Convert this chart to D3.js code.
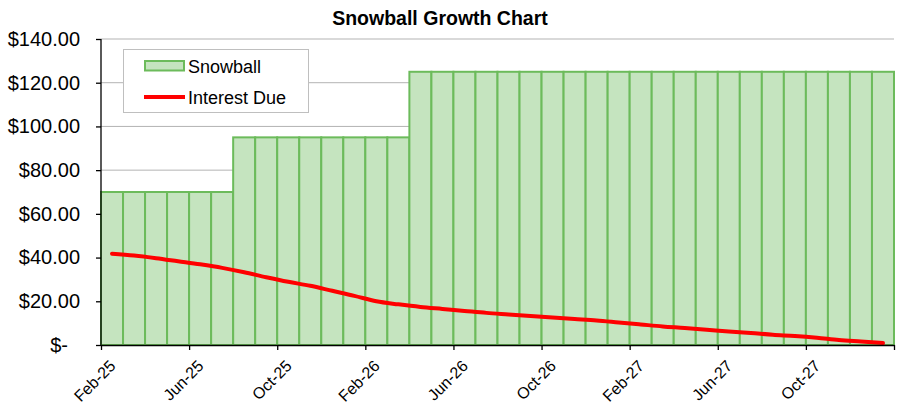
<!DOCTYPE html>
<html><head><meta charset="utf-8">
<script src="https://cdn.jsdelivr.net/npm/d3@7"></script>
<style>body{margin:0;background:#fff}svg{display:block}text{font-family:"Liberation Sans",Arial,sans-serif}</style>
</head><body><svg id="c" width="924" height="406"></svg>
<script>
const months = ["Feb-25","Mar-25","Apr-25","May-25","Jun-25","Jul-25","Aug-25","Sep-25","Oct-25","Nov-25","Dec-25","Jan-26",
"Feb-26","Mar-26","Apr-26","May-26","Jun-26","Jul-26","Aug-26","Sep-26","Oct-26","Nov-26","Dec-26","Jan-27",
"Feb-27","Mar-27","Apr-27","May-27","Jun-27","Jul-27","Aug-27","Sep-27","Oct-27","Nov-27","Dec-27","Jan-28"];
const snowball = [70,70,70,70,70,70,95,95,95,95,95,95,95,95,
125,125,125,125,125,125,125,125,125,125,125,125,125,125,125,125,125,125,125,125,125,125];
const interestDue = [41.8,40.9,39.7,38.3,36.9,35.3,33.3,31.0,28.9,27.1,24.8,22.5,20.0,18.6,17.4,16.5,15.6,14.7,
14.0,13.3,12.6,11.9,11.2,10.3,9.4,8.5,7.8,7.0,6.2,5.5,4.7,4.1,3.3,2.3,1.6,0.9];
const yTicks = [0,20,40,60,80,100,120,140];
const title = "Snowball Growth Chart";

const svg = d3.select("#c");
const L = 101, R = 894, T = 39, B = 345;
const x = d3.scaleLinear().domain([0, months.length]).range([L, R]);
const y = d3.scaleLinear().domain([0, 140]).range([B, T]);

// gridlines
svg.append("g").selectAll("line").data(yTicks.filter(d=>d>0)).join("line")
  .attr("x1", L).attr("x2", R).attr("y1", d=>y(d)).attr("y2", d=>y(d))
  .attr("stroke", "#b3b3b3").attr("stroke-width", 1);

// bars
const bw = x(1) - x(0);
svg.append("g").selectAll("rect").data(snowball).join("rect")
  .attr("x", (d,i)=>x(i)).attr("width", bw)
  .attr("y", d=>y(d)).attr("height", d=>y(0)-y(d))
  .attr("fill", "#c5e4bf").attr("stroke", "#6cbb5b").attr("stroke-width", 2);

// line
const line = d3.line().x((d,i)=>x(i+0.5)).y(d=>y(d)).curve(d3.curveMonotoneX);
svg.append("path").datum(interestDue).attr("d", line)
  .attr("fill","none").attr("stroke","#ff0000").attr("stroke-width",4).attr("stroke-linecap","round");

// y axis
const ya = svg.append("g").attr("transform", `translate(${L},0)`)
  .call(d3.axisLeft(y).tickValues(yTicks).tickSize(5).tickPadding(16)
    .tickFormat(d => d === 0 ? "$-" : "$" + d3.format(".2f")(d)));
ya.selectAll("path,line").attr("stroke","#000").attr("stroke-width",1.3);
ya.select(".domain").attr("d", `M0,${T}V${B}`);
ya.selectAll("text").attr("font-size", 20).attr("fill","#000").attr("font-family",'"Liberation Sans",Arial,sans-serif');
ya.selectAll(".tick").filter(d=>d===0).select("text").attr("x", -33);

// x axis
const xt = d3.range(0, months.length + 1, 4);
const xa = svg.append("g").attr("transform", `translate(0,${B})`)
  .call(d3.axisBottom(x).tickValues(xt).tickSize(5).tickSizeOuter(0)
    .tickFormat(i => i < months.length ? months[i] : ""));
xa.selectAll("path,line").attr("stroke","#000").attr("stroke-width",1.3);
xa.selectAll("text").attr("font-size", 16).attr("fill","#000").attr("font-family",'"Liberation Sans",Arial,sans-serif')
  .attr("text-anchor","end").attr("dy", null).attr("y", 0)
  .attr("transform","translate(15,22) rotate(-45)");

// title
svg.append("text").attr("x", 440).attr("y", 25).attr("text-anchor","middle")
  .attr("font-size", 19.5).attr("font-weight","bold").text(title);

// legend
const lg = svg.append("g");
lg.append("rect").attr("x",123.5).attr("y",49.5).attr("width",185).attr("height",63)
  .attr("fill","#fff").attr("stroke","#bfbfbf").attr("stroke-width",1);
lg.append("rect").attr("x",145).attr("y",61).attr("width",39).attr("height",9.5)
  .attr("fill","#c5e4bf").attr("stroke","#6cbb5b").attr("stroke-width",2);
lg.append("line").attr("x1",144).attr("x2",185).attr("y1",97).attr("y2",97)
  .attr("stroke","#ff0000").attr("stroke-width",4);
lg.append("text").attr("x",188).attr("y",72.5).attr("font-size",18).text("Snowball");
lg.append("text").attr("x",188).attr("y",103.5).attr("font-size",18).text("Interest Due");
</script></body></html>
